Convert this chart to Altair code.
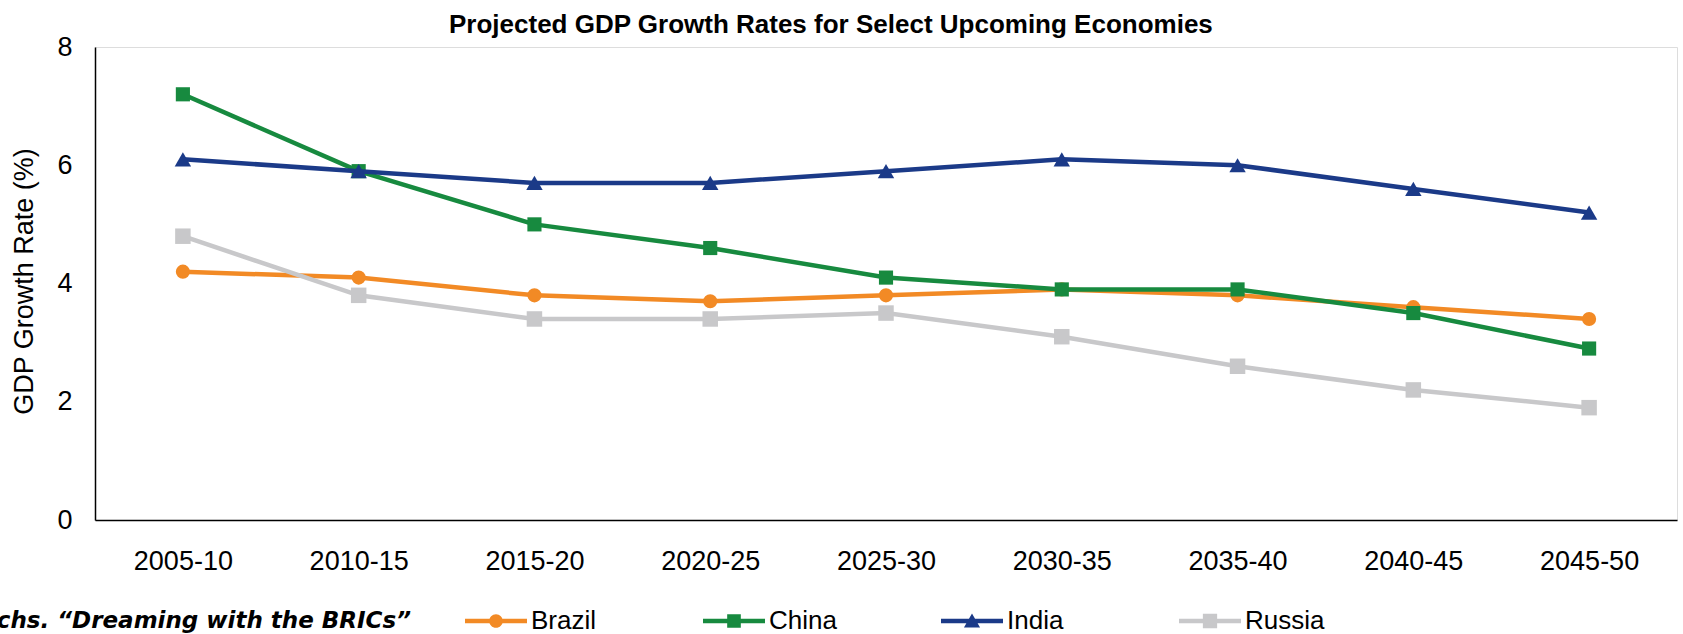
import altair as alt
import pandas as pd

periods = ["2005-10", "2010-15", "2015-20", "2020-25", "2025-30",
           "2030-35", "2035-40", "2040-45", "2045-50"]
series = ["Brazil", "China", "India", "Russia"]
brazil = [4.2, 4.1, 3.8, 3.7, 3.8, 3.9, 3.8, 3.6, 3.4]
china = [7.2, 5.9, 5.0, 4.6, 4.1, 3.9, 3.9, 3.5, 2.9]
india = [6.1, 5.9, 5.7, 5.7, 5.9, 6.1, 6.0, 5.6, 5.2]
russia = [4.8, 3.8, 3.4, 3.4, 3.5, 3.1, 2.6, 2.2, 1.9]
y_ticks = [0, 2, 4, 6, 8]

colors = ["#F28A25", "#178A3F", "#1B3A88", "#C8C8CA"]
marker_shapes = ["circle", "square", "triangle-up", "square"]
marker_sizes = [200, 200, 270, 240]

title_text = "Projected GDP Growth Rates for Select Upcoming Economies"
y_title = "GDP Growth Rate (%)"
source_text = "Source: Goldman Sachs. \u201cDreaming with the BRICs\u201d"

# legend symbols: a line segment with the marker in the middle (unit square paths)
bar = "M-1,-0.07 L1,-0.07 L1,0.07 L-1,0.07 Z "
legend_paths = [
    bar + "M0.22,0 A0.22,0.22 0 1,1 -0.22,0 A0.22,0.22 0 1,1 0.22,0 Z",
    bar + "M-0.22,-0.22 L0.22,-0.22 L0.22,0.22 L-0.22,0.22 Z",
    bar + "M0,-0.24 L0.26,0.21 L-0.26,0.21 Z",
    bar + "M-0.23,-0.23 L0.23,-0.23 L0.23,0.23 L-0.23,0.23 Z",
]

values = {"Brazil": brazil, "China": china, "India": india, "Russia": russia}
rows = []
for s in series:
    for p, v in zip(periods, values[s]):
        rows.append({"series": s, "period": p, "value": v})
df = pd.DataFrame(rows)

FONT = "Liberation Sans"
cscale = alt.Scale(domain=series, range=colors)

x_enc = alt.X(
    "period:O",
    scale=alt.Scale(domain=periods),
    axis=alt.Axis(title=None, labelAngle=0, ticks=False, labelPadding=28,
                  labelFontSize=27, labelFont=FONT, labelColor="black",
                  domainColor="black", domainWidth=1.5, grid=False),
)
y_enc = alt.Y(
    "value:Q",
    scale=alt.Scale(domain=[0, 8], nice=False),
    axis=alt.Axis(values=y_ticks, title=y_title, ticks=False, grid=False,
                  labelPadding=23, labelFontSize=27, labelFont=FONT,
                  labelColor="black", titleFontSize=27, titleFont=FONT,
                  titleFontWeight="normal", titleColor="black",
                  titleX=-71, titleY=234, titleAngle=270, titleAlign="center",
                  titleBaseline="middle", domainColor="black", domainWidth=1.5),
)

layers = []
for s, c, shp, sz in zip(series, colors, marker_shapes, marker_sizes):
    layers.append(
        alt.Chart(df)
        .transform_filter(alt.datum.series == s)
        .mark_line(strokeWidth=4.5, color=c,
                   point=alt.OverlayMarkDef(shape=shp, size=sz, filled=True,
                                            opacity=1, color=c))
        .encode(x=x_enc, y=y_enc)
    )

legend_def = alt.Legend(
    title=None, orient="none", direction="horizontal", legendX=370, legendY=543,
    symbolSize=3844, symbolStrokeWidth=0, labelFontSize=26, labelFont=FONT,
    labelColor="black", labelOffset=4, columnPadding=92, gridAlign="all",
    padding=0, columns=4,
)
legend_layer = (
    alt.Chart(df)
    .transform_filter("false")
    .mark_point(filled=True, opacity=1)
    .encode(
        color=alt.Color("series:N", scale=cscale, legend=legend_def),
        shape=alt.Shape("series:N", scale=alt.Scale(domain=series, range=legend_paths),
                        legend=legend_def),
    )
)

source_layer = (
    alt.Chart(pd.DataFrame({"t": [source_text]}))
    .mark_text(align="right", baseline="middle", font="DejaVu Sans", fontSize=23,
               fontStyle="italic", fontWeight="bold", color="black")
    .encode(text="t:N", x=alt.value(316), y=alt.value(574))
)

chart = (
    alt.layer(*layers, legend_layer, source_layer)
    .properties(
        width=1582, height=473,
        title=alt.TitleParams(text=title_text, font=FONT, fontSize=26, fontWeight="bold",
                              color="black", anchor="start", frame="group", dx=354,
                              offset=-5),
        autosize=alt.AutoSizeParams(type="none"),
        padding={"left": 95, "top": 47, "right": 6, "bottom": 114},
    )
    .configure_view(stroke=None)
    .configure(background="white")
)

chart.save("out.html", embed_options={"renderer": "svg", "actions": False})
